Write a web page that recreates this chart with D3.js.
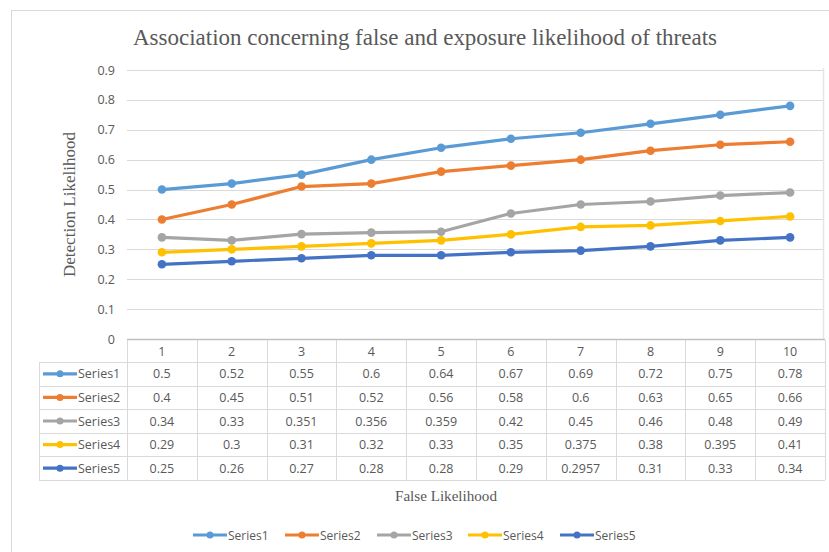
<!DOCTYPE html>
<html>
<head>
<meta charset="utf-8">
<script src="https://cdn.jsdelivr.net/npm/d3@7"></script>
<style>
  html, body { margin: 0; padding: 0; background: #fff; }
  svg { display: block; }
</style>
</head>
<body>
<svg id="chart" width="829" height="552"></svg>
<script>
// Chart data
const categories = ["1", "2", "3", "4", "5", "6", "7", "8", "9", "10"];
const seriesNames = ["Series1", "Series2", "Series3", "Series4", "Series5"];
const series1 = [0.5, 0.52, 0.55, 0.6, 0.64, 0.67, 0.69, 0.72, 0.75, 0.78];
const series2 = [0.4, 0.45, 0.51, 0.52, 0.56, 0.58, 0.6, 0.63, 0.65, 0.66];
const series3 = [0.34, 0.33, 0.351, 0.356, 0.359, 0.42, 0.45, 0.46, 0.48, 0.49];
const series4 = [0.29, 0.3, 0.31, 0.32, 0.33, 0.35, 0.375, 0.38, 0.395, 0.41];
const series5 = [0.25, 0.26, 0.27, 0.28, 0.28, 0.29, 0.2957, 0.31, 0.33, 0.34];
const yTicks = [0, 0.1, 0.2, 0.3, 0.4, 0.5, 0.6, 0.7, 0.8, 0.9];
const colors = ["#5B9BD5", "#ED7D31", "#A5A5A5", "#FFC000", "#4472C4"];

const title = "Association concerning false and exposure likelihood of threats";
const yTitle = "Detection Likelihood";
const xTitle = "False Likelihood";

const allSeries = [series1, series2, series3, series4, series5];
const seriesData = seriesNames.map((name, i) => ({ name, color: colors[i], values: allSeries[i] }));

const svg = d3.select("#chart");
const sansFont = "'Open Sans', 'Liberation Sans', sans-serif";
const serifFont = "'Liberation Serif', 'DejaVu Serif', serif";
const textColor = "#595959";

// Outer chart frame
svg.append("rect")
  .attr("x", 11.5).attr("y", 10.5)
  .attr("width", 830).attr("height", 560)
  .attr("fill", "#fff").attr("stroke", "#d9d9d9");

// Plot area geometry
const plot = { left: 127, right: 825, top: 70, bottom: 339 };

const x = d3.scaleBand().domain(categories).range([plot.left, plot.right]).padding(0);
const y = d3.scaleLinear().domain([0, 0.9]).range([plot.bottom, plot.top]);

// Title
svg.append("text")
  .attr("x", 133).attr("y", 45)
  .attr("font-family", serifFont)
  .attr("font-size", 24)
  .attr("textLength", 584).attr("lengthAdjust", "spacingAndGlyphs")
  .attr("fill", textColor)
  .text(title);

// Gridlines
svg.append("g")
  .selectAll("line")
  .data(yTicks.filter(t => t > 0))
  .join("line")
  .attr("x1", plot.left).attr("x2", plot.right - 2)
  .attr("y1", d => Math.round(y(d)) + 0.5).attr("y2", d => Math.round(y(d)) + 0.5)
  .attr("stroke", "#d9d9d9").attr("stroke-width", 1);

// Plot-area right edge
svg.append("line")
  .attr("x1", plot.right - 1.5).attr("x2", plot.right - 1.5)
  .attr("y1", plot.top - 2).attr("y2", plot.bottom)
  .attr("stroke", "#dfe6ee").attr("stroke-width", 1.5);

// Y axis tick labels
const yAxis = d3.axisLeft(y).tickValues(yTicks).tickSize(0).tickPadding(0)
  .tickFormat(d => d === 0 ? "0" : d3.format(".1f")(d));
const yg = svg.append("g").attr("transform", `translate(${plot.left - 12},0)`).call(yAxis);
yg.select(".domain").remove();
yg.selectAll("text")
  .attr("font-family", sansFont).attr("font-size", 12.5).attr("fill", textColor);

// Y axis title
svg.append("text")
  .attr("transform", `translate(75, 277) rotate(-90)`)
  .attr("font-family", serifFont).attr("font-size", 16)
  .attr("textLength", 145).attr("lengthAdjust", "spacingAndGlyphs")
  .attr("fill", textColor)
  .text(yTitle);

// X axis line with soft shadow
const defs = svg.append("defs");
const blur = defs.append("filter").attr("id", "soft").attr("x", "-5%").attr("y", "-200%").attr("width", "110%").attr("height", "500%");
blur.append("feGaussianBlur").attr("stdDeviation", 1.2);
svg.append("line")
  .attr("x1", plot.left).attr("x2", plot.right)
  .attr("y1", plot.bottom + 2).attr("y2", plot.bottom + 2)
  .attr("stroke", "#c8ccd2").attr("stroke-width", 3).attr("filter", "url(#soft)");
svg.append("line")
  .attr("x1", plot.left).attr("x2", plot.right)
  .attr("y1", plot.bottom + 0.5).attr("y2", plot.bottom + 0.5)
  .attr("stroke", "#bfbfbf").attr("stroke-width", 1.5);

// Series lines and markers
const line = d3.line()
  .x((d, i) => x(categories[i]) + x.bandwidth() / 2)
  .y(d => y(d));

const sg = svg.append("g").selectAll("g").data(seriesData).join("g");
sg.append("path")
  .attr("d", d => line(d.values))
  .attr("fill", "none")
  .attr("stroke", d => d.color)
  .attr("stroke-width", 3.2)
  .attr("stroke-linejoin", "round");
sg.selectAll("circle")
  .data(d => d.values.map((v, i) => ({ v, i, color: d.color })))
  .join("circle")
  .attr("cx", d => x(categories[d.i]) + x.bandwidth() / 2)
  .attr("cy", d => y(d.v))
  .attr("r", 4.3)
  .attr("fill", d => d.color);

// Data table below the axis
const table = { left: 39, headerTop: plot.bottom + 1, headerBottom: 362, rowH: 23.6 };
const rowsBottom = table.headerBottom + table.rowH * seriesData.length;
const tg = svg.append("g");
const gridColor = "#d9d9d9";

// Column lines (band boundaries)
const colEdges = categories.map(c => x(c)).concat([plot.right]);
tg.selectAll("line.col")
  .data(colEdges)
  .join("line")
  .attr("class", "col")
  .attr("x1", d => Math.round(d) + 0.5).attr("x2", d => Math.round(d) + 0.5)
  .attr("y1", table.headerTop).attr("y2", rowsBottom)
  .attr("stroke", gridColor);
// Left edge of the series label column
tg.append("line")
  .attr("x1", table.left + 0.5).attr("x2", table.left + 0.5)
  .attr("y1", table.headerBottom).attr("y2", rowsBottom)
  .attr("stroke", gridColor);
// Row lines
const rowEdges = d3.range(seriesData.length + 1).map(i => table.headerBottom + i * table.rowH);
tg.selectAll("line.row")
  .data(rowEdges)
  .join("line")
  .attr("class", "row")
  .attr("x1", table.left).attr("x2", plot.right)
  .attr("y1", d => Math.round(d) + 0.5).attr("y2", d => Math.round(d) + 0.5)
  .attr("stroke", gridColor);

// Header: category labels
tg.selectAll("text.cat")
  .data(categories)
  .join("text")
  .attr("class", "cat")
  .attr("x", d => x(d) + x.bandwidth() / 2)
  .attr("y", table.headerBottom - 6)
  .attr("text-anchor", "middle")
  .attr("font-family", sansFont).attr("font-size", 12.5)
  .attr("fill", textColor)
  .text(d => d);

// Rows: legend key, name, values
seriesData.forEach((s, r) => {
  const cy = table.headerBottom + table.rowH * (r + 0.5);
  tg.append("line")
    .attr("x1", 43).attr("x2", 77).attr("y1", cy).attr("y2", cy)
    .attr("stroke", s.color).attr("stroke-width", 3.2);
  tg.append("circle").attr("cx", 60).attr("cy", cy).attr("r", 3.5).attr("fill", s.color);
  tg.append("text")
    .attr("x", 78).attr("y", cy + 4.5)
    .attr("font-family", sansFont).attr("font-size", 12.5)
    .attr("fill", textColor)
    .text(s.name);
  tg.selectAll(null)
    .data(s.values)
    .join("text")
    .attr("x", (d, i) => x(categories[i]) + x.bandwidth() / 2)
    .attr("y", cy + 4.5)
    .attr("text-anchor", "middle")
    .attr("font-family", sansFont).attr("font-size", 12.5)
    .attr("fill", textColor)
    .text(d => String(d));
});

// X axis title
svg.append("text")
  .attr("x", 395).attr("y", 501)
  .attr("font-family", serifFont).attr("font-size", 15)
  .attr("textLength", 102).attr("lengthAdjust", "spacingAndGlyphs")
  .attr("fill", textColor)
  .text(xTitle);

// Legend
const legend = svg.append("g");
const legendX = [193, 285, 377, 468, 560];
seriesData.forEach((s, i) => {
  const lx = legendX[i], ly = 535;
  legend.append("line")
    .attr("x1", lx).attr("x2", lx + 34).attr("y1", ly).attr("y2", ly)
    .attr("stroke", s.color).attr("stroke-width", 3.2);
  legend.append("circle").attr("cx", lx + 17).attr("cy", ly).attr("r", 3.5).attr("fill", s.color);
  legend.append("text")
    .attr("x", lx + 35).attr("y", ly + 4.5)
    .attr("font-family", sansFont).attr("font-size", 12)
    .attr("fill", textColor)
    .text(s.name);
});
</script>
</body>
</html>
